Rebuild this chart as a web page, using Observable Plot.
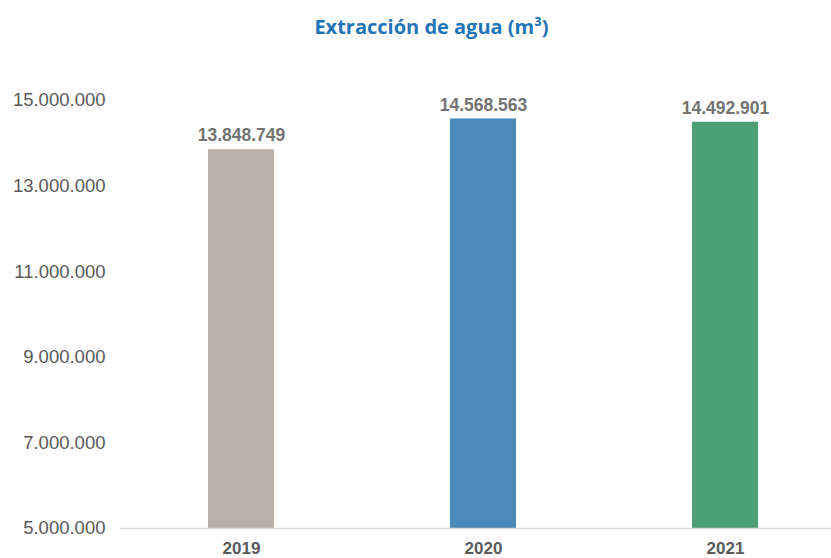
<!DOCTYPE html>
<html>
<head>
<meta charset="utf-8">
<script src="https://cdn.jsdelivr.net/npm/d3@7"></script>
<script src="https://cdn.jsdelivr.net/npm/@observablehq/plot@0.6"></script>
<style>
  html, body { margin: 0; padding: 0; background: #fff; }
  #title { width: 831px; height: 56px; line-height: 54px; text-align: center; box-sizing: border-box; padding-left: 32px;
           font-family: "Open Sans", sans-serif; font-weight: 700; font-size: 20px; color: #1f74b8; }
</style>
</head>
<body>
<div id="title">Extracción de agua (m³)</div>
<div id="chart"></div>
<script>
const years = ["2019", "2020", "2021"];
const values = [13848749, 14568563, 14492901];
const colors = ["#b8b0ab", "#4a89b8", "#4ca174"];
const yTicks = [5000000, 7000000, 9000000, 11000000, 13000000, 15000000];

const data = years.map((y, i) => ({year: y, value: values[i]}));
const fmt = d3.formatLocale({decimal: ",", thousands: ".", grouping: [3], currency: ["", ""]}).format(",");

const chart = Plot.plot({
  width: 831,
  height: 502,
  marginLeft: 120,
  marginRight: 0,
  marginTop: 44,
  marginBottom: 30,
  style: {fontFamily: "'Liberation Sans', Arial, sans-serif", fontSize: "17px", color: "#595959", background: "#fff"},
  x: {domain: years, range: [120, 846], paddingInner: 0.727, paddingOuter: 0.3635, label: null},
  y: {domain: [5000000, 15000000], ticks: yTicks, label: null, tickFormat: fmt},
  color: {domain: years, range: colors},
  marks: [
    Plot.barY(data, {x: "year", y1: 5000000, y2: "value", fill: "year"}),
    Plot.ruleY([5000000], {stroke: "#d9d9d9", strokeWidth: 1.5}),
    Plot.text(data, {x: "year", y: "value", text: d => fmt(d.value), dy: -14, fill: "#737373", fontWeight: "bold", fontSize: 17.5}),
    Plot.axisY({ticks: yTicks, tickFormat: fmt, tickSize: 0, tickPadding: 15, fill: "#595959", fontSize: 18.5, label: null}),
    Plot.axisX({tickSize: 0, tickPadding: 13, fill: "#595959", fontWeight: "bold", fontSize: 17, label: null})
  ]
});
document.getElementById("chart").appendChild(chart);
</script>
</body>
</html>
